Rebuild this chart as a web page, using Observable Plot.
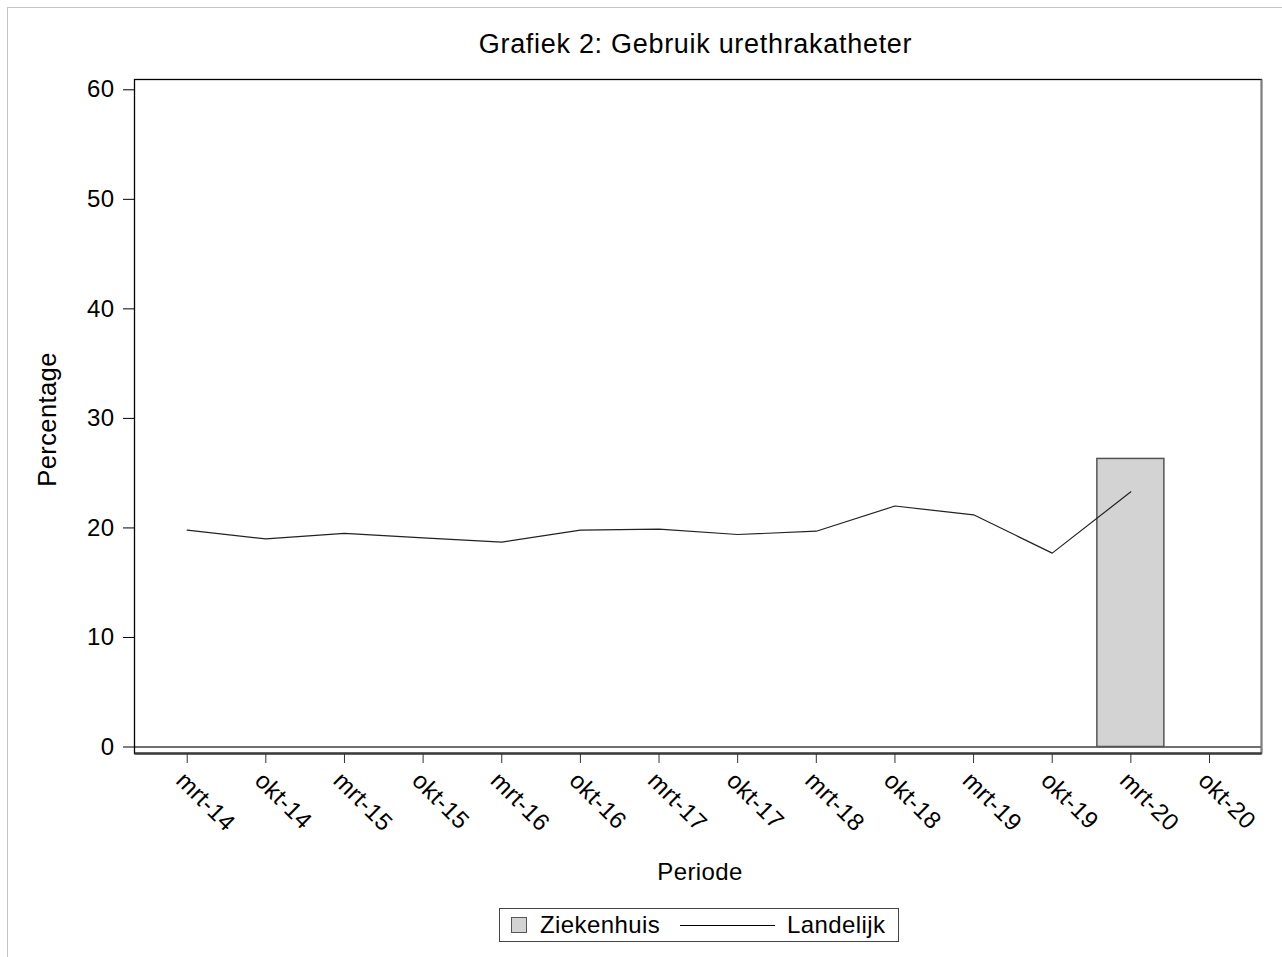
<!DOCTYPE html>
<html>
<head>
<meta charset="utf-8">
<script src="https://cdn.jsdelivr.net/npm/d3@7"></script>
<script src="https://cdn.jsdelivr.net/npm/@observablehq/plot@0.6"></script>
<style>
  body { margin: 0; background: #fff; font-family: "Liberation Sans", Arial, Helvetica, sans-serif; }
  #page { position: relative; width: 1282px; height: 957px; overflow: hidden; background: #fff; }
  #border { position: absolute; left: 7px; top: 7px; width: 1300px; height: 1000px; border: 1px solid #c4c4c4; }
  #title { position: absolute; left: 695.5px; top: 28.7px; transform: translateX(-50%); white-space: nowrap;
           font-size: 27px; line-height: 30px; letter-spacing: 0.7px; color: #000; }
  #chart { position: absolute; left: 0; top: 66px; }
  #legend { position: absolute; left: 499px; top: 908px; width: 400px; height: 34px; box-sizing: border-box;
            border: 1px solid #444; background: #fff; }
  #legend .sw { position: absolute; left: 11px; top: 8px; width: 16px; height: 16px; box-sizing: border-box;
                background: #d3d3d3; border: 1px solid #555; }
  #legend .ln { position: absolute; left: 180px; top: 16px; width: 95px; height: 1px; background: #000; }
  #legend .lt { position: absolute; top: 0; line-height: 32px; font-size: 24px; letter-spacing: 0.4px; white-space: nowrap; color: #000; }
</style>
</head>
<body>
<div id="page">
  <div id="border"></div>
  <div id="title"></div>
  <div id="chart"></div>
  <div id="legend"></div>
</div>
<script>
// ---- data ----
const titleText = "Grafiek 2: Gebruik urethrakatheter";
const yLabel = "Percentage";
const xLabel = "Periode";
const seriesNames = ["Ziekenhuis", "Landelijk"];
const periods = ["mrt-14","okt-14","mrt-15","okt-15","mrt-16","okt-16","mrt-17","okt-17","mrt-18","okt-18","mrt-19","okt-19","mrt-20","okt-20"];
const landelijk = [19.8, 19.0, 19.5, 19.1, 18.7, 19.8, 19.9, 19.4, 19.7, 22.0, 21.2, 17.7, 23.3, null];
const ziekenhuis = [null, null, null, null, null, null, null, null, null, null, null, null, 26.3, null];
const yTicks = [0, 10, 20, 30, 40, 50, 60];

// ---- tables ----
const lineData = periods.map((p, i) => ({period: p, value: landelijk[i]})).filter(d => d.value != null);
const barData = periods.map((p, i) => ({period: p, value: ziekenhuis[i]})).filter(d => d.value != null);

document.getElementById("title").textContent = titleText;

const W = 1282, H = 830;
const mL = 134, mR = 21, mT = 13, mB = 143;
const fw = W - mL - mR, fh = H - mT - mB;
const font = '"Liberation Sans", Arial, Helvetica, sans-serif';

const chart = Plot.plot({
  width: W, height: H,
  marginLeft: mL, marginRight: mR, marginTop: mT, marginBottom: mB,
  style: {fontFamily: font, fontSize: "24px", color: "#000", background: "transparent", overflow: "visible", letterSpacing: "0.4px"},
  x: {type: "band", domain: periods, round: false, paddingInner: 0.148, paddingOuter: 0, insetLeft: 19.2, insetRight: 18.5, axis: null},
  y: {domain: [0, 60], insetTop: 10.3, insetBottom: 6.5, axis: null},
  marks: [
    Plot.ruleY([0], {stroke: "#707070", strokeWidth: 2}),
    Plot.barY(barData, {x: "period", y: "value", fill: "#d3d3d3", stroke: "#555", strokeWidth: 1.5}),
    Plot.lineY(lineData, {x: "period", y: "value", stroke: "#222", strokeWidth: 1.2}),
    Plot.frame({stroke: "#000", strokeWidth: 1.3}),
    Plot.frame({stroke: "#808080", strokeWidth: 2, strokeDasharray: `0 ${fw} ${fh} ${fw + fh}`}),
    Plot.frame({stroke: "#3c3c3c", strokeWidth: 2.5, strokeDasharray: `0 ${fw + fh} ${fw} ${fh}`}),
    Plot.axisY({ticks: yTicks, tickSize: 11, tickPadding: 9, tickFormat: d => String(d), stroke: "#000", fontSize: 24, label: null}),
    Plot.axisX({tickSize: 10, tickFormat: () => "", stroke: "#333", label: null}),
    Plot.axisX({tickSize: 0, tickPadding: 23, tickRotate: 45, dx: -7, fontSize: 24, label: null}),
    Plot.text([yLabel], {text: d => d, frameAnchor: "left", rotate: -90, lineAnchor: "top", textAnchor: "middle", dx: -97, dy: 3, fontSize: 25.5}),
    Plot.text([xLabel], {text: d => d, frameAnchor: "bottom", lineAnchor: "top", textAnchor: "middle", dx: 2, dy: 109, fontSize: 24})
  ]
});
document.getElementById("chart").appendChild(chart);

// ---- legend ----
const lg = document.getElementById("legend");
lg.innerHTML = `<div class="sw"></div><span class="lt" style="left:40px">${seriesNames[0]}</span><div class="ln"></div><span class="lt" style="left:287px">${seriesNames[1]}</span>`;
</script>
</body>
</html>
